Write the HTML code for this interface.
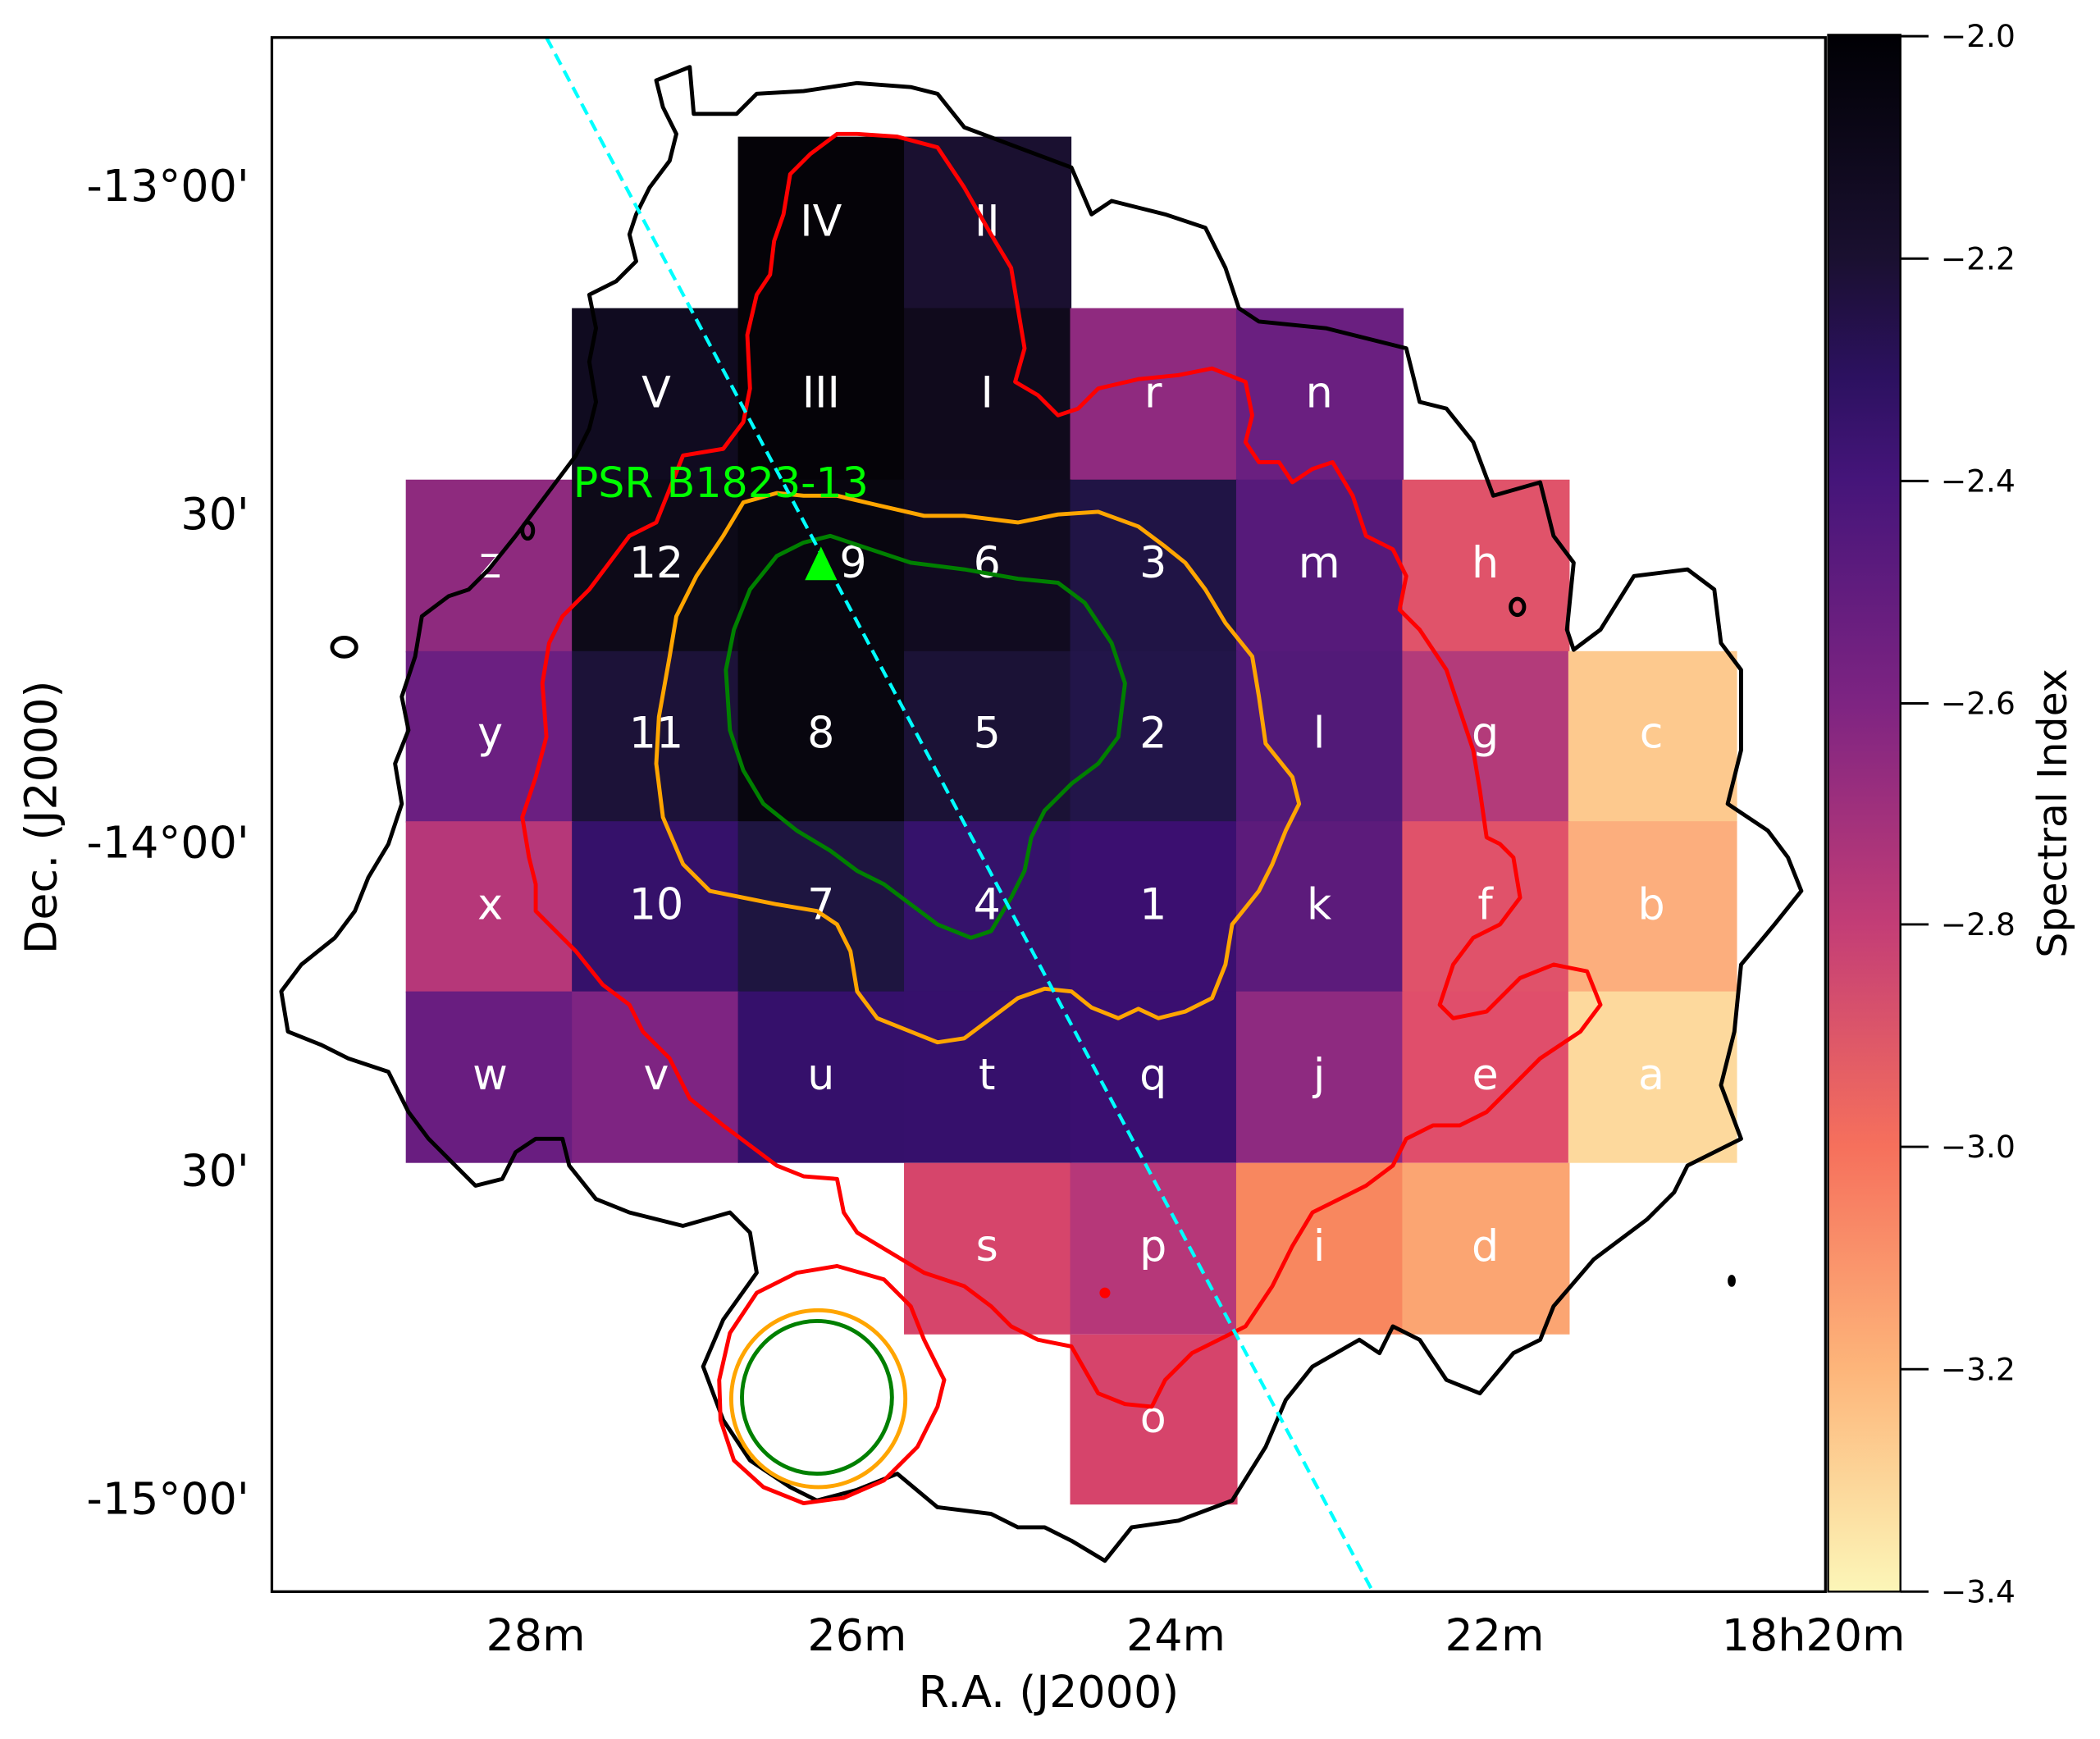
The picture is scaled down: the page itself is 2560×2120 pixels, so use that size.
<!DOCTYPE html>
<html><head><meta charset="utf-8"><style>
html,body{margin:0;padding:0;background:#fff}
svg{display:block}
text{font-family:"DejaVu Sans","Liberation Sans",sans-serif}
</style></head><body>
<svg width="2560" height="2120" viewBox="0 0 1568 1298" preserveAspectRatio="none" xmlns="http://www.w3.org/2000/svg">
<defs>
<linearGradient id="cb" x1="0" y1="0" x2="0" y2="1">
<stop offset="0" stop-color="#000004"/>
<stop offset="0.143" stop-color="#1a1030"/>
<stop offset="0.22" stop-color="#2c1160"/>
<stop offset="0.286" stop-color="#45157a"/>
<stop offset="0.43" stop-color="#7e2482"/>
<stop offset="0.571" stop-color="#c33d76"/>
<stop offset="0.714" stop-color="#f6705c"/>
<stop offset="0.857" stop-color="#fdb57a"/>
<stop offset="1" stop-color="#fcf6b8"/>
</linearGradient>
</defs>
<rect width="1568" height="1298" fill="#fff"/>
<g stroke="none">
<rect x="551" y="102" width="125" height="129" fill="#050308"/>
<rect x="675" y="102" width="125" height="129" fill="#1a1030"/>
<rect x="427" y="230" width="125" height="129" fill="#100b20"/>
<rect x="551" y="230" width="125" height="129" fill="#050308"/>
<rect x="675" y="230" width="125" height="129" fill="#100a1c"/>
<rect x="799" y="230" width="125" height="129" fill="#8f2a7f"/>
<rect x="923" y="230" width="125" height="129" fill="#6a1f80"/>
<rect x="303" y="358" width="125" height="129" fill="#8e2a7e"/>
<rect x="427" y="358" width="125" height="129" fill="#0d0a18"/>
<rect x="551" y="358" width="125" height="129" fill="#08060f"/>
<rect x="675" y="358" width="125" height="129" fill="#110b20"/>
<rect x="799" y="358" width="125" height="129" fill="#201445"/>
<rect x="923" y="358" width="125" height="129" fill="#561a7a"/>
<rect x="1047" y="358" width="125" height="129" fill="#e0536a"/>
<rect x="303" y="486" width="125" height="128" fill="#6b1f81"/>
<rect x="427" y="486" width="125" height="128" fill="#1c1238"/>
<rect x="551" y="486" width="125" height="128" fill="#08060f"/>
<rect x="675" y="486" width="125" height="128" fill="#1b1236"/>
<rect x="799" y="486" width="125" height="128" fill="#221549"/>
<rect x="923" y="486" width="125" height="128" fill="#521a78"/>
<rect x="1047" y="486" width="125" height="128" fill="#b33b7a"/>
<rect x="1171" y="486" width="126" height="128" fill="#fdc98e"/>
<rect x="303" y="613" width="125" height="128" fill="#b63779"/>
<rect x="427" y="613" width="125" height="128" fill="#35116a"/>
<rect x="551" y="613" width="125" height="128" fill="#1e1540"/>
<rect x="675" y="613" width="125" height="128" fill="#35126b"/>
<rect x="799" y="613" width="125" height="128" fill="#3b0f70"/>
<rect x="923" y="613" width="125" height="128" fill="#5c1b7b"/>
<rect x="1047" y="613" width="125" height="128" fill="#e0526a"/>
<rect x="1171" y="613" width="126" height="128" fill="#fcae7d"/>
<rect x="303" y="740" width="125" height="128" fill="#691d80"/>
<rect x="427" y="740" width="125" height="128" fill="#7e2482"/>
<rect x="551" y="740" width="125" height="128" fill="#35106b"/>
<rect x="675" y="740" width="125" height="128" fill="#36106c"/>
<rect x="799" y="740" width="125" height="128" fill="#3a0f70"/>
<rect x="923" y="740" width="125" height="128" fill="#8e2a80"/>
<rect x="1047" y="740" width="125" height="128" fill="#e04e6b"/>
<rect x="1171" y="740" width="126" height="128" fill="#fdd99d"/>
<rect x="675" y="868" width="125" height="128" fill="#d6456b"/>
<rect x="799" y="868" width="125" height="128" fill="#b63779"/>
<rect x="923" y="868" width="125" height="128" fill="#f8875f"/>
<rect x="1047" y="868" width="125" height="128" fill="#fba572"/>
<rect x="799" y="996" width="125" height="127" fill="#d6446b"/>
</g>
<g fill="#fff" font-size="32" text-anchor="middle">
<text x="613" y="176">IV</text><text x="737" y="176">II</text>
<text x="490" y="304">V</text><text x="613" y="304">III</text><text x="737" y="304">I</text><text x="861" y="304">r</text><text x="985" y="304">n</text>
<text x="366" y="431">z</text><text x="490" y="431">12</text><text x="637" y="431">9</text><text x="737" y="431">6</text><text x="861" y="431">3</text><text x="985" y="431">m</text><text x="1109" y="431">h</text>
<text x="366" y="558">y</text><text x="490" y="558">11</text><text x="613" y="558">8</text><text x="737" y="558">5</text><text x="861" y="558">2</text><text x="985" y="558">l</text><text x="1109" y="558">g</text><text x="1233" y="558">c</text>
<text x="366" y="686">x</text><text x="490" y="686">10</text><text x="613" y="686">7</text><text x="737" y="686">4</text><text x="861" y="686">1</text><text x="985" y="686">k</text><text x="1109" y="686">f</text><text x="1233" y="686">b</text>
<text x="366" y="813">w</text><text x="490" y="813">v</text><text x="613" y="813">u</text><text x="737" y="813">t</text><text x="861" y="813">q</text><text x="985" y="813">j</text><text x="1109" y="813">e</text><text x="1233" y="813">a</text>
<text x="737" y="941">s</text><text x="861" y="941">p</text><text x="985" y="941">i</text><text x="1109" y="941">d</text>
<text x="861" y="1069">o</text>
</g>
<g fill="none" stroke-width="3" stroke-linejoin="round">
<path stroke="#000" d="M490,60 L515,50 518,85 550,85 565,70 600,68 640,62 680,65 700,70 720,95 760,110 800,125 815,160 830,150 870,160 900,170 915,200 925,230 940,240 990,245 1050,260 1060,300 1080,305 1100,330 1115,370 1150,360 1160,400 1175,420 1170,470 1175,485 1195,470 1220,430 1260,425 1280,440 1285,480 1300,500 1300,560 1290,600 1320,620 1335,640 1345,665 1325,690 1300,720 1295,770 1285,810 1300,850 1260,870 1250,890 1230,910 1190,940 1160,975 1150,1000 1130,1010 1105,1040 1080,1030 1060,1000 1040,990 1030,1010 1015,1000 980,1020 960,1045 945,1080 920,1120 880,1135 845,1140 825,1165 800,1150 780,1140 760,1140 740,1130 700,1125 670,1100 640,1112 610,1120 590,1110 560,1090 540,1060 525,1020 540,985 565,950 560,920 545,905 510,915 470,905 445,895 425,870 420,850 400,850 385,860 375,880 355,885 340,870 330,860 320,850 305,830 290,800 260,790 240,780 215,770 210,740 225,720 250,700 265,680 275,655 290,630 300,600 295,570 305,545 300,520 310,490 315,460 335,445 350,440 365,425 385,400 400,380 415,360 430,340 440,320 445,300 440,270 445,245 440,220 460,210 475,195 470,175 475,160 485,140 500,120 505,100 495,80 Z"/>
<ellipse stroke="#000" cx="257" cy="483" rx="9" ry="7"/>
<ellipse stroke="#000" cx="394" cy="396" rx="4" ry="6"/>
<ellipse stroke="#000" cx="1133" cy="453" rx="5" ry="6"/>
<ellipse stroke="#000" cx="1293" cy="956" rx="1.5" ry="3"/>
<path stroke="#ff0000" d="M640,100 L670,102 700,110 720,140 740,175 755,200 760,230 765,260 758,285 775,295 790,310 805,305 820,290 850,283 880,280 905,275 930,285 935,310 930,330 940,345 955,345 965,360 980,350 995,345 1010,370 1020,400 1040,410 1050,430 1045,455 1060,470 1080,500 1090,530 1100,560 1105,590 1110,625 1120,630 1130,640 1135,670 1120,690 1100,700 1085,720 1075,750 1085,760 1110,755 1135,730 1160,720 1185,725 1195,750 1180,770 1165,780 1150,790 1130,810 1110,830 1090,840 1070,840 1050,850 1040,870 1020,885 1000,895 980,905 965,930 950,960 930,990 910,1000 890,1010 870,1030 860,1050 840,1048 820,1040 800,1005 775,1000 755,990 740,975 720,960 690,950 665,935 640,920 630,905 625,880 600,878 580,870 560,855 540,840 515,820 500,790 480,770 470,750 450,735 430,710 410,690 400,680 400,660 395,640 390,610 400,580 408,550 405,510 410,480 420,460 440,440 455,420 470,400 490,390 510,340 540,335 555,315 560,290 558,250 565,220 575,205 578,180 585,160 590,130 605,115 625,100 Z"/>
<circle cx="825" cy="965" r="2.5" fill="#ff0000" stroke="#ff0000"/>
<path stroke="#ff0000" d="M625,945 L660,955 680,975 690,1000 705,1030 700,1050 685,1080 660,1105 630,1118 600,1122 570,1110 548,1090 538,1060 537,1030 545,995 565,965 595,950 Z"/>
<path stroke="#ffa500" d="M555,375 L580,368 600,370 625,370 655,377 690,385 720,385 760,390 790,384 820,382 850,393 870,408 885,420 900,440 915,465 935,490 940,520 945,555 965,580 970,600 960,620 950,645 940,665 920,690 915,720 905,745 885,755 865,760 850,753 835,760 815,752 800,740 780,738 760,745 740,760 720,775 700,778 680,770 655,760 640,740 635,710 625,690 610,680 580,675 555,670 530,665 510,645 495,610 490,570 492,535 500,490 505,460 520,430 540,400 Z"/>
<ellipse stroke="#ffa500" cx="611" cy="1044" rx="65" ry="66"/>
<path stroke="#008000" d="M600,405 L620,400 650,410 680,420 720,425 760,432 790,435 810,450 830,480 840,510 835,550 820,570 800,585 780,605 770,625 765,650 755,670 740,695 725,700 700,690 680,675 660,660 640,650 620,635 595,620 570,600 555,575 545,545 542,500 548,470 560,440 580,415 Z"/>
<ellipse stroke="#008000" cx="610" cy="1043" rx="56" ry="57"/>
<line x1="408" y1="28" x2="1025" y2="1188" stroke="#00ffff" stroke-width="2.6" stroke-dasharray="9,5"/>
</g>
<polygon points="613,408 601,433 625,433" fill="#00ff00"/>
<text x="428" y="371" font-size="31" fill="#00ff00">PSR B1823-13</text>
<rect x="203" y="28" width="1160" height="1160" fill="none" stroke="#000" stroke-width="2"/>
<g font-size="33" fill="#000">
<g text-anchor="middle">
<text x="400" y="1232">28m</text><text x="640" y="1232">26m</text><text x="878" y="1232">24m</text><text x="1116" y="1232">22m</text><text x="1354" y="1232">18h20m</text>
<text x="783" y="1274">R.A. (J2000)</text>
</g>
<g text-anchor="end">
<text x="186" y="150">-13°00'</text><text x="186" y="395">30'</text><text x="186" y="640">-14°00'</text><text x="186" y="885">30'</text><text x="186" y="1130">-15°00'</text>
</g>
<text transform="translate(42,610) rotate(-90)" text-anchor="middle">Dec. (J2000)</text>
</g>
<rect x="1365" y="26" width="54" height="1162" fill="url(#cb)" stroke="#000" stroke-width="1.5"/>
<g stroke="#000" stroke-width="1.8">
<line x1="1419" y1="27" x2="1440" y2="27"/><line x1="1419" y1="193" x2="1440" y2="193"/><line x1="1419" y1="359" x2="1440" y2="359"/><line x1="1419" y1="525" x2="1440" y2="525"/><line x1="1419" y1="690" x2="1440" y2="690"/><line x1="1419" y1="856" x2="1440" y2="856"/><line x1="1419" y1="1022" x2="1440" y2="1022"/><line x1="1419" y1="1188" x2="1440" y2="1188"/>
</g>
<g font-size="23" fill="#000">
<text x="1449" y="35">−2.0</text><text x="1449" y="201">−2.2</text><text x="1449" y="367">−2.4</text><text x="1449" y="533">−2.6</text><text x="1449" y="698">−2.8</text><text x="1449" y="864">−3.0</text><text x="1449" y="1030">−3.2</text><text x="1449" y="1196">−3.4</text>
</g>
<text transform="translate(1543,607) rotate(-90)" text-anchor="middle" font-size="30" fill="#000">Spectral Index</text>
</svg>
</body></html>
